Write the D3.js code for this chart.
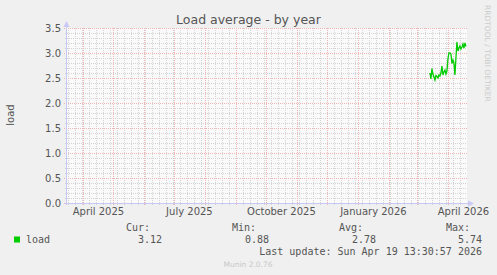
<!DOCTYPE html>
<html><head><meta charset="utf-8">
<script src="https://cdn.jsdelivr.net/npm/d3@7/dist/d3.min.js"></script>
<style>
html,body{margin:0;padding:0;background:#f0f0f0;}
svg{display:block;}
text{font-family:"DejaVu Sans",sans-serif;}
.mono{font-family:"DejaVu Sans Mono",monospace;}
</style></head>
<body><svg id="c" width="497" height="275"></svg>
<script>
// ---- data ----
const title = "Load average - by year";
const yLabel = "load";
const endTime = "2026-04-19T13:30:57Z";
const spanDays = 400;
const seriesStart = "2026-03-13T12:00:00Z";
const loadValues = [2.60,2.48,2.69,2.58,2.52,2.46,2.55,2.53,2.50,2.56,2.54,2.60,2.74,2.56,2.62,2.66,2.58,2.64,2.88,3.00,3.00,2.98,2.79,2.86,2.80,2.56,2.90,3.22,3.04,3.10,3.14,3.08,3.12,3.18,3.10,3.20,3.13];
const yTicks = [0,0.5,1,1.5,2,2.5,3,3.5];
const xLabelMonths = ["2025-04-01","2025-07-01","2025-10-01","2026-01-01","2026-04-01"];
const xLabelTexts = ["April 2025","July 2025","October 2025","January 2026","April 2026"];
const legendName = "load";
const statHeads = ["Cur:","Min:","Avg:","Max:"];
const statVals = ["3.12","0.88","2.78","5.74"];
const lastUpdate = "Last update: Sun Apr 19 13:30:57 2026";
const footer = "Munin 2.0.76";
const sideText = "RRDTOOL / TOBI OETIKER";

// ---- chart ----
const svg = d3.select("#c");
const L = 67, R = 467, T = 28, B = 203;
const end = new Date(endTime);
const start = d3.utcDay.offset(end, -spanDays);
const x = d3.scaleUtc().domain([start, end]).range([L, R]);
const y = d3.scaleLinear().domain([0, 3.5]).range([B, T]);

svg.append("rect").attr("width",497).attr("height",275).attr("fill","#f0f0f0");
svg.append("rect").attr("x",L).attr("y",T).attr("width",R-L).attr("height",B-T).attr("fill","#fafafa");

const minorCol = "#d4d4d4", majorCol = "#f0b4b4";
// minor horizontal
const yMinor = d3.range(0, 36).map(i => i/10).filter(v => Math.round(v*10)%5 !== 0);
svg.append("g").selectAll("line").data(yMinor).join("line")
  .attr("x1",L-2).attr("x2",R).attr("y1",d=>Math.round(y(d))+0.5).attr("y2",d=>Math.round(y(d))+0.5)
  .attr("stroke",minorCol).attr("stroke-dasharray","1,1");
// minor vertical (weekly)
const weeks = d3.utcMonday.range(start, end);
svg.append("g").selectAll("line").data(weeks).join("line")
  .attr("x1",d=>Math.round(x(d))+0.5).attr("x2",d=>Math.round(x(d))+0.5).attr("y1",T).attr("y2",B+2)
  .attr("stroke",minorCol).attr("stroke-dasharray","1,1");
// major horizontal
svg.append("g").selectAll("line").data(yTicks).join("line")
  .attr("x1",L-3).attr("x2",R).attr("y1",d=>Math.round(y(d))+0.5).attr("y2",d=>Math.round(y(d))+0.5)
  .attr("stroke",majorCol).attr("stroke-dasharray","1,1");
// major vertical (monthly)
const months = d3.utcMonth.range(d3.utcMonth.ceil(start), end);
svg.append("g").selectAll("line").data(months).join("line")
  .attr("x1",d=>Math.round(x(d))+0.5).attr("x2",d=>Math.round(x(d))+0.5).attr("y1",T).attr("y2",B+3)
  .attr("stroke",majorCol).attr("stroke-dasharray","1,1");

// axes
const axCol = "#c8c8f4";
svg.append("line").attr("x1",L-0.5).attr("x2",L-0.5).attr("y1",B+2).attr("y2",T-3).attr("stroke",axCol);
svg.append("path").attr("d",`M${L-3.5},${T-1}L${L-0.5},${T-7}L${L+2.5},${T-1}Z`).attr("fill",axCol);
svg.append("line").attr("x1",L-2).attr("x2",R+2).attr("y1",B+0.5).attr("y2",B+0.5).attr("stroke",axCol);
svg.append("path").attr("d",`M${R+1},${B-2.5}L${R+7},${B+0.5}L${R+1},${B+3.5}Z`).attr("fill",axCol);

// y labels
svg.append("g").selectAll("text").data(yTicks).join("text")
  .attr("x",L-6).attr("y",d=>y(d)+3.6).attr("text-anchor","end")
  .attr("font-size",10).attr("fill","#555").text(d=>d3.format(".1f")(d));
// x labels
svg.append("g").selectAll("text").data(xLabelMonths).join("text")
  .attr("x",d=>x(d3.utcDay.offset(new Date(d+"T00:00:00Z"),15)))
  .attr("y",215).attr("text-anchor","middle").attr("font-size",10).attr("fill","#555")
  .text((d,i)=>xLabelTexts[i]);

// title
svg.append("text").attr("x",248.5).attr("y",24).attr("text-anchor","middle")
  .attr("font-size",12.5).attr("fill","#555").text(title);
// y axis title
svg.append("text").attr("transform","translate(14,115) rotate(-90)").attr("text-anchor","middle")
  .attr("font-size",10).attr("fill","#555").text(yLabel);
// side text
svg.append("text").attr("transform","translate(485,5) rotate(90)").attr("text-anchor","start")
  .attr("font-size",7.5).attr("fill","#cccccc").text(sideText);

// data line
const s0 = new Date(seriesStart);
const pts = loadValues.map((v,i)=>({t:d3.utcDay.offset(s0,i), v}));
svg.append("path").datum(pts)
  .attr("d", d3.line().x(d=>x(d.t)).y(d=>y(d.v)))
  .attr("fill","none").attr("stroke","#00cc00").attr("stroke-width",1.3);

// legend
const headX = [150,256,363,470];
const valX = [162,269,376,482];
svg.append("g").selectAll("text").data(statHeads).join("text").attr("class","mono")
  .attr("x",(d,i)=>headX[i]).attr("y",230.5).attr("text-anchor","end")
  .attr("font-size",10).attr("fill","#555").text(d=>d);
svg.append("rect").attr("x",14).attr("y",236.5).attr("width",6).attr("height",6).attr("fill","#00cc00");
svg.append("text").attr("class","mono").attr("x",26).attr("y",242.5).attr("font-size",10).attr("fill","#555").text(legendName);
svg.append("g").selectAll("text").data(statVals).join("text").attr("class","mono")
  .attr("x",(d,i)=>valX[i]).attr("y",242.5).attr("text-anchor","end")
  .attr("font-size",10).attr("fill","#555").text(d=>d);
svg.append("text").attr("class","mono").attr("x",482).attr("y",254.5).attr("text-anchor","end")
  .attr("font-size",10).attr("fill","#555").text(lastUpdate);
svg.append("text").attr("x",248).attr("y",267).attr("text-anchor","middle")
  .attr("font-size",7.5).attr("fill","#c8c8c8").text(footer);
</script></body></html>
